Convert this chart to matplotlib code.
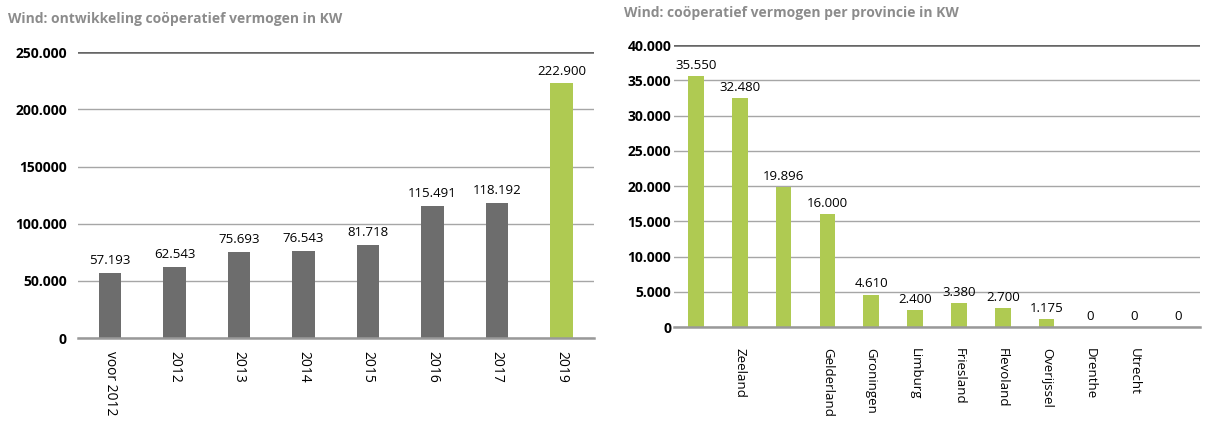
import matplotlib.pyplot as plt
from matplotlib.ticker import FixedLocator

plt.rcParams['font.family'] = ['Open Sans', 'DejaVu Sans']

# left chart data
years = ["voor 2012", "2012", "2013", "2014", "2015", "2016", "2017", "2019"]
capacity = [57193, 62543, 75693, 76543, 81718, 115491, 118192, 222900]
left_ticks = [0, 50000, 100000, 150000, 200000, 250000]
left_ticklabels = ["0", "50.000", "100.000", "150000", "200.000", "250.000"]

# right chart data
provinces = ["", "Zeeland", "", "Gelderland", "Groningen", "Limburg", "Friesland",
             "Flevoland", "Overijssel", "Drenthe", "Utrecht", ""]
prov_capacity = [35550, 32480, 19896, 16000, 4610, 2400, 3380, 2700, 1175, 0, 0, 0]
right_ticks = [0, 5000, 10000, 15000, 20000, 25000, 30000, 35000, 40000]
right_ticklabels = ["0", "5.000", "10.000", "15.000", "20.000", "25.000",
                    "30.000", "35.000", "40.000"]

GRAY = "#6d6d6d"
GREEN = "#afca52"
TITLE = "#8c8c8c"


def fmt(v):
    return f"{v:,}".replace(",", ".")


def style(ax, ticks, labels, top, pad, xpad, xsize):
    ax.set_ylim(0, top)
    ax.yaxis.set_major_locator(FixedLocator(ticks))
    ax.set_yticklabels(labels, fontsize=10, fontweight="bold")
    ax.tick_params(axis="y", length=0, pad=pad)
    ax.tick_params(axis="x", length=0, pad=xpad, labelsize=xsize, labelrotation=270)
    for s in ["left", "right", "top"]:
        ax.spines[s].set_visible(False)
    ax.spines["bottom"].set_color("#999999")
    ax.spines["bottom"].set_linewidth(1.8)
    ax.set_axisbelow(True)
    ax.yaxis.grid(True, color="#a6a6a6", linewidth=1.0)
    ax.axhline(top, color="#666666", linewidth=1.8, zorder=1)


fig = plt.figure(figsize=(12.09, 4.21), dpi=100)

ax1 = fig.add_axes([0.0645, 0.197, 0.4265, 0.679])
x1 = range(len(years))
colors = [GRAY] * (len(years) - 1) + [GREEN]
ax1.bar(x1, capacity, width=0.35, color=colors, zorder=2)
for xi, v in zip(x1, capacity):
    ax1.annotate(fmt(v), (xi, v), xytext=(0, 4), textcoords="offset points",
                 ha="center", va="bottom", fontsize=9.5)
ax1.set_xlim(-0.5, len(years) - 0.5)
ax1.set_xticks(list(x1))
ax1.set_xticklabels(years, va="top", ha="center")
style(ax1, left_ticks, left_ticklabels, 250000, 8, 9, 10)
fig.text(0.007, 0.955, "Wind: ontwikkeling coöperatief vermogen in KW",
         color=TITLE, fontsize=10, fontweight="bold", va="center")

ax2 = fig.add_axes([0.5575, 0.223, 0.435, 0.670])
x2 = range(len(provinces))
ax2.bar(x2, prov_capacity, width=0.36, color=GREEN, zorder=2)
for xi, v in zip(x2, prov_capacity):
    ax2.annotate(fmt(v), (xi, v), xytext=(0, 3), textcoords="offset points",
                 ha="center", va="bottom", fontsize=9.5)
ax2.set_xlim(-0.5, len(provinces) - 0.5)
ax2.set_xticks(list(x2))
ax2.set_xticklabels(provinces, va="top", ha="center")
style(ax2, right_ticks, right_ticklabels, 40000, 2, 15, 9.5)
fig.text(0.516, 0.97, "Wind: coöperatief vermogen per provincie in KW",
         color=TITLE, fontsize=10, fontweight="bold", va="center")

fig.savefig("out.png", dpi=100, facecolor="white")
